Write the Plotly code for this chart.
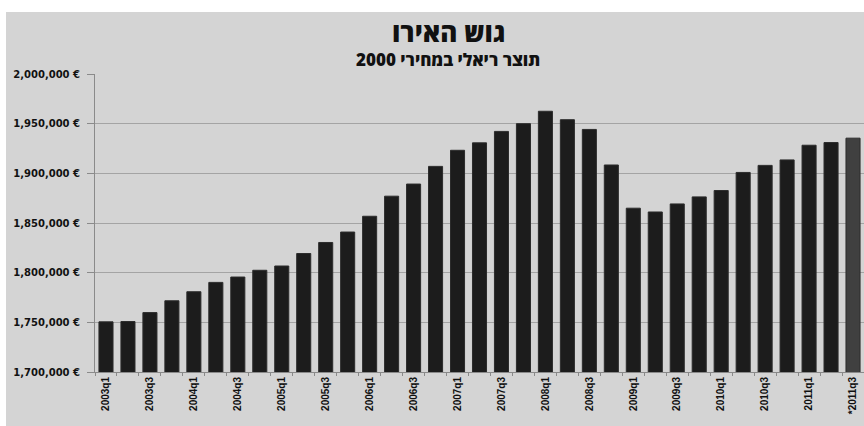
import plotly.graph_objects as go

quarters = ["2003q1","2003q2","2003q3","2003q4","2004q1","2004q2","2004q3","2004q4",
            "2005q1","2005q2","2005q3","2005q4","2006q1","2006q2","2006q3","2006q4",
            "2007q1","2007q2","2007q3","2007q4","2008q1","2008q2","2008q3","2008q4",
            "2009q1","2009q2","2009q3","2009q4","2010q1","2010q2","2010q3","2010q4",
            "2011q1","2011q2","2011q3"]
gdp = [1750500, 1750800, 1759800, 1771700, 1780800, 1790200, 1795600, 1802400,
       1806700, 1819300, 1830400, 1840900, 1856800, 1877000, 1889200, 1907000,
       1923200, 1930700, 1942200, 1950000, 1962500, 1954000, 1944200, 1908400,
       1864900, 1861100, 1869200, 1876300, 1882700, 1900900, 1908000, 1913500,
       1928300, 1931000, 1935400]
tick_labels = [q if i % 2 == 0 else "" for i, q in enumerate(quarters)]
tick_labels[-1] = "*2011q3"
title_text = "גוש האירו"
subtitle_text = "תוצר ריאלי במחירי 2000"

colors = ["#1c1c1c"] * (len(gdp) - 1) + ["#404040"]

fig = go.Figure(go.Bar(
    x=quarters, y=gdp,
    marker=dict(color=colors, line=dict(color="#2c2c2c", width=1)),
))

L, R, T, B = 95, 0, 74, 54
W, H = 864, 426
pw, ph = W - L - R, H - T - B

def px_x(p):
    return (p - L) / pw

def px_y(p):
    return 1 + (T - p) / ph

fig.update_layout(
    width=W, height=H,
    margin=dict(l=L, r=R, t=T, b=B),
    paper_bgcolor="#d4d4d4",
    plot_bgcolor="#d4d4d4",
    bargap=0.36,
    showlegend=False,
    font=dict(family="DejaVu Sans, Arial, sans-serif", color="#111111"),
    xaxis=dict(
        type="category",
        tickmode="array", tickvals=quarters, ticktext=tick_labels,
        tickangle=-90,
        tickson="boundaries",
        ticks="outside", ticklen=3, tickcolor="#8a8a8a",
        tickfont=dict(size=10, family="Liberation Sans Narrow, Liberation Sans, Arial", color="#111111", weight="bold"),
        showline=True, linecolor="#8a8a8a", linewidth=1,
        showgrid=False,
    ),
    yaxis=dict(
        range=[1700000, 2000000],
        tickmode="linear", tick0=1700000, dtick=50000,
        tickformat=",.0f", ticksuffix=" €",
        ticks="outside", ticklen=7, tickcolor="#8a8a8a",
        tickfont=dict(size=10, family="DejaVu Sans", color="#111111", weight="bold"),
        ticklabelstandoff=5,
        showline=True, linecolor="#8a8a8a", linewidth=1,
        showgrid=True, gridcolor="#a4a4a4", gridwidth=1,
        zeroline=False,
    ),
    shapes=[
        dict(type="rect", xref="paper", yref="paper", layer="above",
             x0=px_x(-5), x1=px_x(W + 5), y0=px_y(12), y1=px_y(-5),
             fillcolor="white", line=dict(width=0)),
        dict(type="rect", xref="paper", yref="paper", layer="above",
             x0=px_x(-5), x1=px_x(6), y0=px_y(H + 5), y1=px_y(-5),
             fillcolor="white", line=dict(width=0)),
    ],
    annotations=[
        dict(text=title_text, xref="paper", yref="paper", x=px_x(448), y=px_y(32),
             xanchor="center", yanchor="middle", showarrow=False,
             font=dict(size=26, family="Open Sans", color="#111111", weight=800)),
        dict(text=subtitle_text, xref="paper", yref="paper", x=px_x(448), y=px_y(60),
             xanchor="center", yanchor="middle", showarrow=False,
             font=dict(size=17, family="Open Sans", color="#111111", weight=800)),
    ],
)

fig.write_html("out.html")
